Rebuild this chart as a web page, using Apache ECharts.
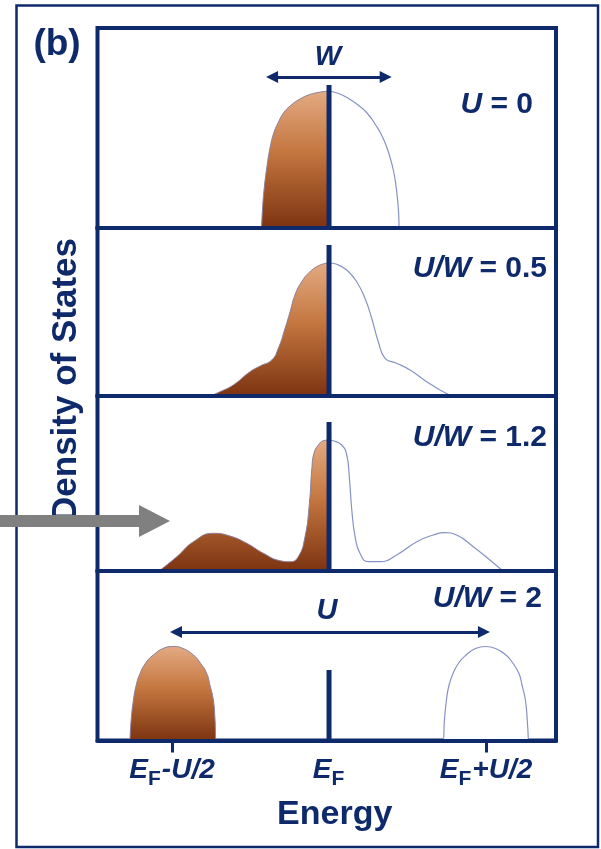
<!DOCTYPE html>
<html><head><meta charset="utf-8">
<script src="https://cdn.jsdelivr.net/npm/echarts@6/dist/echarts.min.js"></script>
<style>html,body{margin:0;padding:0;background:#fff}#c{width:601px;height:849px}</style>
</head><body><div id="c"></div>
<script>
// ---------------- data ----------------
// energy in units of U/2 (E_F = 0), density of states in arbitrary units
const panelLabels = ['U = 0', 'U/W = 0.5', 'U/W = 1.2', 'U/W = 2'];

const u0Energy = [-0.430, -0.424, -0.414, -0.395, -0.376, -0.354, -0.325, -0.290, -0.248, -0.185, -0.121, -0.070, 0,
                  0.070, 0.134, 0.185, 0.242, 0.293, 0.344, 0.382, 0.411, 0.430, 0.443, 0.446];
const u0Dos    = [0, 0.18, 0.38, 0.62, 0.80, 0.94, 1.05, 1.15, 1.22, 1.29, 1.335, 1.355, 1.37,
                  1.34, 1.285, 1.23, 1.15, 1.04, 0.90, 0.74, 0.57, 0.38, 0.16, 0];

const u05Energy = [-0.758, -0.694, -0.610, -0.503, -0.439, -0.365, -0.323, -0.280, -0.248, -0.217, -0.174, -0.121, -0.057, 0,
                   0.049, 0.113, 0.176, 0.229, 0.272, 0.314, 0.357, 0.431, 0.516, 0.622, 0.707, 0.783];
const u05Dos    = [0, 0.043, 0.11, 0.243, 0.30, 0.36, 0.477, 0.677, 0.843, 1.01, 1.143, 1.243, 1.31, 1.33,
                   1.317, 1.26, 1.143, 0.977, 0.777, 0.543, 0.377, 0.327, 0.26, 0.143, 0.06, 0];

const u12Energy = [-1.083, -0.970, -0.864, -0.737, -0.631, -0.524, -0.418, -0.312, -0.248, -0.196, -0.153, -0.125, -0.110, -0.096, -0.068, -0.036, 0,
                   0.027, 0.081, 0.113, 0.129, 0.145, 0.166, 0.197, 0.250, 0.325, 0.431, 0.559, 0.664, 0.739, 0.813, 0.919, 1.025, 1.108];
const u12Dos    = [0, 0.143, 0.293, 0.377, 0.35, 0.277, 0.177, 0.103, 0.093, 0.143, 0.343, 0.677, 1.01, 1.177, 1.26, 1.303, 1.31,
                   1.303, 1.26, 1.16, 0.943, 0.61, 0.343, 0.177, 0.093, 0.093, 0.16, 0.293, 0.36, 0.383, 0.36, 0.243, 0.11, 0];

const u2Energy = [-1.268, -1.261, -1.246, -1.229, -1.204, -1.166, -1.119, -1.057, -0.992, -0.930, -0.864, -0.822, -0.779, -0.758, -0.737, -0.726, -0.720, 0,
                  0.726, 0.735, 0.748, 0.764, 0.790, 0.828, 0.873, 0.933, 0.998, 1.061, 1.127, 1.168, 1.210, 1.230, 1.251, 1.263, 1.270];
const u2Dos    = [0, 0.20, 0.405, 0.55, 0.67, 0.78, 0.855, 0.92, 0.94, 0.92, 0.855, 0.78, 0.67, 0.55, 0.405, 0.20, 0, 0,
                  0, 0.20, 0.405, 0.55, 0.67, 0.78, 0.855, 0.92, 0.94, 0.92, 0.855, 0.78, 0.67, 0.55, 0.405, 0.20, 0];

const fermiLineHeight = [1.43, 1.51, 1.49, 0.705];
const wArrowEnergy = [-0.363, 0.361];
const wArrowLevel = 1.51;
const uArrowEnergy = [-0.975, 0.987];
const uArrowLevel = 1.085;

const tickValues = [-1, 0, 1];
const tickLabels = ['E_F-U/2', 'E_F', 'E_F+U/2'];
const tickMarkValues = [-1, 1];

// ---------------- layout / style ----------------
const NAVY = '#0f2a6b';
const FONT = '"Liberation Sans", Arial, sans-serif';
const energies = [u0Energy, u05Energy, u12Energy, u2Energy];
const doses = [u0Dos, u05Dos, u12Dos, u2Dos];
const gridTops = [28, 228, 396, 571];
const gridHeights = [200, 168, 175, 169.5];
const yMax = [2.00, 1.68, 1.75, 1.695];
const X_MIN = -1.475, X_MAX = 1.446;

const chart = echarts.init(document.getElementById('c'), null, {renderer: 'canvas'});

const brown = new echarts.graphic.LinearGradient(0, 0, 0, 1, [
  {offset: 0, color: '#e3aa82'},
  {offset: 0.45, color: '#c4763f'},
  {offset: 1, color: '#7c3310'}
]);

const grids = [], xAxes = [], yAxes = [], series = [];
for (let i = 0; i < 4; i++) {
  grids.push({left: 97.5, width: 458.5, top: gridTops[i], height: gridHeights[i],
    show: true, borderColor: NAVY, borderWidth: 4, backgroundColor: '#fff',
    containLabel: false, outerBoundsMode: 'none'});
  const last = i === 3;
  xAxes.push({
    type: 'value', gridIndex: i, min: X_MIN, max: X_MAX, z: 5,
    axisLine: {show: true, onZero: false, lineStyle: {color: NAVY, width: 4}},
    splitLine: {show: false},
    axisTick: last ? {show: true, customValues: tickMarkValues, length: 12, lineStyle: {color: NAVY, width: 3}} : {show: false},
    axisLabel: last ? {
      show: true, customValues: tickValues, margin: 16,
      formatter: function (v) {
        let k = 0;
        tickValues.forEach((t, j) => { if (Math.abs(t - v) < 1e-6) k = j; });
        const rest = tickLabels[k].slice(3);
        return '{e|E}{s|F}' + (rest ? '{e|' + rest + '}' : '');
      },
      rich: {
        e: {fontFamily: FONT, fontSize: 28, fontWeight: 'bold', fontStyle: 'italic', color: NAVY, lineHeight: 30, verticalAlign: 'top'},
        s: {fontFamily: FONT, fontSize: 21, fontWeight: 'bold', color: NAVY, lineHeight: 21, verticalAlign: 'top', padding: [12, 1, 0, 0]}
      }
    } : {show: false},
    name: last ? 'Energy' : '',
    nameLocation: 'middle', nameGap: 57,
    nameTextStyle: {fontFamily: FONT, fontSize: 34, fontWeight: 'bold', color: NAVY, padding: [0, 0, 0, 16]}
  });
  yAxes.push({type: 'value', gridIndex: i, min: 0, max: yMax[i], show: false});

  const pts = energies[i].map((e, j) => [e, doses[i][j]]);
  const occ = pts.filter(p => p[0] <= 0);
  const emp = pts.filter(p => p[0] >= 0);
  series.push({
    type: 'line', xAxisIndex: i, yAxisIndex: i, data: emp, symbol: 'none', silent: true,
    smooth: 0.5, z: 2,
    lineStyle: {color: '#8793c4', width: 1.2},
    areaStyle: {color: '#ffffff', opacity: 1}
  });
  series.push({
    type: 'line', xAxisIndex: i, yAxisIndex: i, data: occ, symbol: 'none', silent: true,
    smooth: 0.5, z: 3,
    lineStyle: {color: '#8a7f9c', width: 1},
    areaStyle: {color: brown, opacity: 1}
  });
  const ef = {
    type: 'line', xAxisIndex: i, yAxisIndex: i, data: [[0, 0], [0, fermiLineHeight[i]]],
    symbol: 'none', silent: true, z: 6,
    lineStyle: {color: NAVY, width: 5}
  };
  if (i === 0 || i === 3) {
    const ae = i === 0 ? wArrowEnergy : uArrowEnergy;
    const al = i === 0 ? wArrowLevel : uArrowLevel;
    ef.markLine = {
      silent: true, symbol: ['triangle', 'triangle'], symbolSize: 12,
      lineStyle: {color: NAVY, width: 3, type: 'solid'},
      itemStyle: {color: NAVY},
      label: {show: false},
      data: [[{coord: [ae[0], al]}, {coord: [ae[1], al]}]]
    };
  }
  series.push(ef);
}

function richLabel(t) {
  const k = t.indexOf('=');
  return '{i|' + t.slice(0, k).trim() + '}{n| ' + t.slice(k) + '}';
}
const richStyles = {
  i: {fontFamily: FONT, fontSize: 30, fontWeight: 'bold', fontStyle: 'italic', fill: NAVY},
  n: {fontFamily: FONT, fontSize: 30, fontWeight: 'bold', fill: NAVY}
};
const labelPos = [[533, 105, 'right'], [547, 269, 'right'], [547, 438, 'right'], [542, 598.5, 'right']];

const graphics = [
  {type: 'rect', z: 1, silent: true, shape: {x: 16.5, y: 5.5, width: 581.5, height: 841.5}, style: {fill: 'none', stroke: NAVY, lineWidth: 2.5}},
  {type: 'text', z: 50, silent: true, x: 57, y: 45, style: {text: '(b)', font: 'bold 37px ' + FONT, fill: NAVY, align: 'center', verticalAlign: 'middle', textAlign: 'center', textVerticalAlign: 'middle'}},
  {type: 'text', z: 50, silent: true, x: 66.5, y: 380, rotation: Math.PI / 2,
   style: {text: 'Density of States', font: 'bold 35px ' + FONT, fill: NAVY, align: 'center', verticalAlign: 'middle', textAlign: 'center', textVerticalAlign: 'middle'}},
  {type: 'text', z: 50, silent: true, x: 328, y: 57, style: {text: 'W', font: 'italic bold 28px ' + FONT, fill: NAVY, align: 'center', verticalAlign: 'middle', textAlign: 'center', textVerticalAlign: 'middle'}},
  {type: 'text', z: 50, silent: true, x: 327, y: 610.5, style: {text: 'U', font: 'italic bold 29px ' + FONT, fill: NAVY, align: 'center', verticalAlign: 'middle', textAlign: 'center', textVerticalAlign: 'middle'}},
  {type: 'polygon', z: 60, silent: true,
   shape: {points: [[0, 515], [139, 515], [139, 505], [170, 521], [139, 537], [139, 527], [0, 527]]},
   style: {fill: '#808080'}}
];
panelLabels.forEach((t, i) => {
  graphics.push({type: 'text', z: 50, silent: true, x: labelPos[i][0], y: labelPos[i][1],
    style: {text: richLabel(t), rich: richStyles, align: labelPos[i][2], verticalAlign: 'middle', textAlign: labelPos[i][2], textVerticalAlign: 'middle', fill: NAVY}});
});

chart.setOption({
  animation: false,
  backgroundColor: '#ffffff',
  grid: grids, xAxis: xAxes, yAxis: yAxes, series: series,
  graphic: graphics
});
</script></body></html>
